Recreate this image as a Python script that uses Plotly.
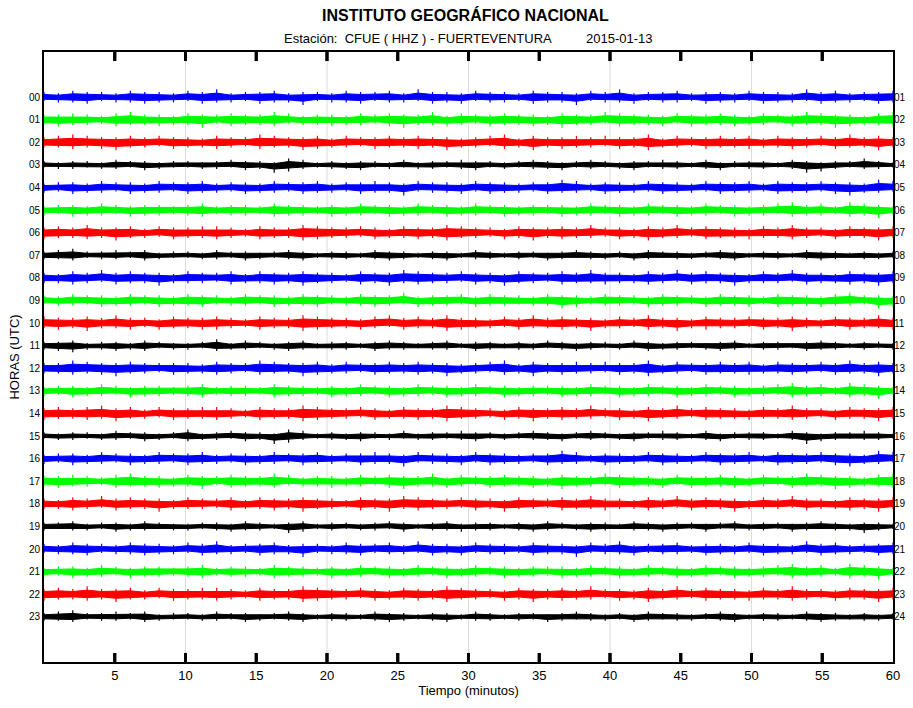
import plotly.graph_objects as go

# Helicorder: 24 one-hour lines, 60 minutes each.
hours_left = ["%02d" % h for h in range(24)]
hours_right = ["%02d" % (h + 1) for h in range(24)]
row_colors = ["#0000FF", "#00FF00", "#FF0000", "#000000"]
minute_ticks = [5, 10, 15, 20, 25, 30, 35, 40, 45, 50, 55, 60]
grid_minutes = [10, 20, 30, 40, 50]
y_span = [-2, 25]

# Estimated per-minute peak amplitudes (upper / lower excursion, counts) for each hour line
env_up = [
    "4354435443 5463445344 3544536443 5443544354 6344534435 4436453445",
    "4454356443 5445446534 4354544635 4454435446 5443544543 5446544356",
    "4565445454 4354465445 3544545443 4563544545 4463544545 3544546454",
    "3233243323 3234332542 3233242334 3323432343 2334324233 3243233532",
    "3443544354 4534435445 3445435443 5443446534 4354435445 3544544365",
    "3443543443 4534435443 4354435443 5443444354 4354435443 4564536543",
    "4546445354 4554354465 4454354465 4435445464 4354645443 5464435445",
    "3453343423 3243323432 3324332332 4323323432 3243323432 3324332323",
    "4354645443 5445354454 4354465445 4435445464 4354645443 5464435445",
    "4354435443 5443544354 4354463445 3544354435 4435443544 3544356443",
    "5445464435 4454354465 4435645464 4354645443 5464435445 4454354464",
    "3342332432 2352432342 3323432342 3323243233 2432332342 3323432332",
    "4465445444 4354465445 3544545443 4563544545 4463544545 3544546454",
    "3443543443 4534435443 4354435443 5443444354 4354435443 4564536543",
    "4545645354 4554354465 4454354465 4435445464 4354645443 5464435445",
    "3233243323 5234332542 3233242334 3323432343 2334324233 3243233432",
    "3443544354 4534435445 3445435443 5443446534 4354435445 3544544365",
    "4454356443 5445446534 4354544635 4454435446 5443544543 5446544356",
    "4354645443 5445354454 4354465445 4435445464 4354645443 5464435445",
    "3342332432 2332432342 3323432342 3323243233 2432332342 3323432332",
    "4354435443 5463445344 3544536443 5443544354 6344534435 4436453445",
    "3443543443 4534435443 4354435443 5443444354 4354435443 4564536543",
    "4546445354 4554354465 4454354465 4435445464 4354645443 5464435445",
    "3453343423 3243323432 3324332332 4323323432 3243323432 3324332323",
]
env_dn = [
    "3445344544 3544354463 4453443545 3443544634 4534435443 5443544354",
    "4544354454 4635445344 5443564454 3544546443 5445354454 4354465445",
    "4454564435 4454354465 4435445464 4354645443 5464435445 4454354464",
    "2332332432 2332436532 3342323323 4232334232 3423323423 3236532332",
    "4354435443 5443544354 4354463445 3544354435 4435443544 3544356443",
    "4354435443 4534435443 5443544354 4354435443 5443544354 4354435463",
    "5445464435 4454354465 4435445464 4354645443 5464435445 4454354464",
    "3342332432 2332432342 3323432342 3323243233 2432332342 3323432332",
    "4454354464 4435445464 4354645443 5464435445 4454354464 4435445464",
    "3443544354 4534435445 3445435443 5443446534 4354435445 3544544365",
    "4546445354 4554354465 4454354465 4435445464 4354645443 5464435445",
    "3453343423 3243323432 3324332332 4323323432 3243323432 3324332323",
    "4454564435 4454354465 4435445464 4354645443 5464435445 4454354464",
    "4354435443 4534435443 5443544354 4354435443 5443544354 4354435463",
    "5445464435 4454354465 4435445464 4354645443 5464435445 4454354464",
    "2332332432 4332436532 3342323323 4232334232 3423323423 3236432332",
    "4354435443 5443544354 4354463445 3544354435 4435443544 3544356443",
    "4544354454 4635445344 5443564454 3544546443 5445354454 4354465445",
    "4454354464 4435445464 4354645443 5464435445 4454354464 4435445464",
    "3233243323 3234332542 3233242334 3323432343 2334324233 3243233532",
    "3445344544 3544354463 4453443545 3443544634 4534435443 5443544354",
    "4354435443 4534435443 5443544354 4354435443 5443544354 4354435463",
    "5445464435 4454354465 4435445464 4354645443 5464435445 4454354464",
    "3342332432 2332432342 3323432342 3323243233 2432332342 3323432332",
]

AMP_CORE = 0.03    # band body scale: counts -> row units
AMP_HAIR = 0.058   # peak excursion scale
TICK_LEN = 0.4     # inside tick length in row units (~9 px)
TICK_PAPER = 0.0148
FONT = "Liberation Sans, Arial, sans-serif"

fig = go.Figure()

# light vertical grid every 10 minutes
gx, gy = [], []
for g in grid_minutes:
    gx += [g, g, None]
    gy += [y_span[0], y_span[1], None]
fig.add_trace(go.Scatter(x=gx, y=gy, mode="lines", line=dict(color="#dcdcdc", width=1),
                         hoverinfo="skip", showlegend=False))

for i in range(24):
    up = [int(c) for c in env_up[i].replace(" ", "")]
    dn = [int(c) for c in env_dn[i].replace(" ", "")]
    n = len(up)
    t = [60.0 * k / (n - 1) for k in range(n)]
    col = row_colors[i % 4]
    xs = t + t[::-1]
    ys = [i - a * AMP_CORE for a in up] + [i + a * AMP_CORE for a in dn[::-1]]
    fig.add_trace(go.Scatter(x=xs, y=ys, mode="lines", fill="toself",
                             fillcolor=col, line=dict(color=col, width=1),
                             hoverinfo="skip", showlegend=False))
    hx, hy = [], []
    for k in range(n):
        hx += [t[k], t[k], None]
        hy += [i - up[k] * AMP_HAIR, i + dn[k] * AMP_HAIR, None]
    fig.add_trace(go.Scatter(x=hx, y=hy, mode="lines",
                             line=dict(color=col, width=1.2),
                             hoverinfo="skip", showlegend=False))

# inside tick marks on bottom and top frame edges
tx, ty = [], []
for m in minute_ticks[:-1]:
    tx += [m, m, None, m, m, None]
    ty += [y_span[1], y_span[1] - TICK_LEN, None, y_span[0], y_span[0] + TICK_LEN, None]
fig.add_trace(go.Scatter(x=tx, y=ty, mode="lines", line=dict(color="black", width=3),
                         hoverinfo="skip", showlegend=False, cliponaxis=False))

# same ticks as layout shapes (drawn above everything)
tick_shapes = []
for m in minute_ticks[:-1]:
    tick_shapes.append(dict(type="line", xref="x", yref="paper", x0=m, x1=m,
                            y0=0, y1=TICK_PAPER, layer="above",
                            line=dict(color="black", width=3)))
    tick_shapes.append(dict(type="line", xref="x", yref="paper", x0=m, x1=m,
                            y0=1, y1=1 - TICK_PAPER, layer="above",
                            line=dict(color="black", width=3)))

# invisible trace to activate the right-hand axis
fig.add_trace(go.Scatter(x=[0], y=[0], yaxis="y2", mode="markers",
                         marker=dict(opacity=0), showlegend=False, hoverinfo="skip"))

fig.update_layout(
    width=913, height=708,
    margin=dict(l=44, r=20, t=52, b=46),
    plot_bgcolor="white", paper_bgcolor="white",
    font=dict(family=FONT, color="black", size=12),
    shapes=tick_shapes,
    xaxis=dict(range=[0, 60], tickvals=minute_ticks, ticks="", showline=True,
               mirror=True, linewidth=2, linecolor="black", showgrid=False,
               zeroline=False, automargin=False, tickfont=dict(size=13),
               title=dict(text="Tiempo (minutos)", font=dict(size=13), standoff=4)),
    yaxis=dict(range=[y_span[1], y_span[0]], tickvals=list(range(24)),
               ticktext=hours_left, ticks="", showgrid=False, zeroline=False,
               showline=True, mirror=True, linewidth=2, linecolor="black",
               tickfont=dict(size=10), automargin=False,
               title=dict(text="HORAS (UTC)", font=dict(size=13), standoff=6)),
    yaxis2=dict(range=[y_span[1], y_span[0]], overlaying="y", side="right",
                tickvals=list(range(24)), ticktext=hours_right, ticks="",
                showgrid=False, zeroline=False, showline=False, automargin=False,
                tickfont=dict(size=10)),
    annotations=[
        dict(text="<b>INSTITUTO GEOGRÁFICO NACIONAL</b>", xref="paper", yref="paper",
             x=(465 - 44) / 849, y=(662 - 15) / 610, showarrow=False,
             font=dict(size=16), xanchor="center", yanchor="middle"),
        dict(text="Estación:&nbsp;&nbsp;CFUE ( HHZ ) - FUERTEVENTURA", xref="paper",
             yref="paper", x=(418 - 44) / 849, y=(662 - 38) / 610, showarrow=False,
             font=dict(size=13), xanchor="center", yanchor="middle"),
        dict(text="2015-01-13", xref="paper", yref="paper", x=(619 - 44) / 849,
             y=(662 - 38) / 610, showarrow=False, font=dict(size=13),
             xanchor="center", yanchor="middle"),
    ],
)

fig.write_html("out.html", config={"displayModeBar": False},
               post_script="document.body.style.margin='0px';")
